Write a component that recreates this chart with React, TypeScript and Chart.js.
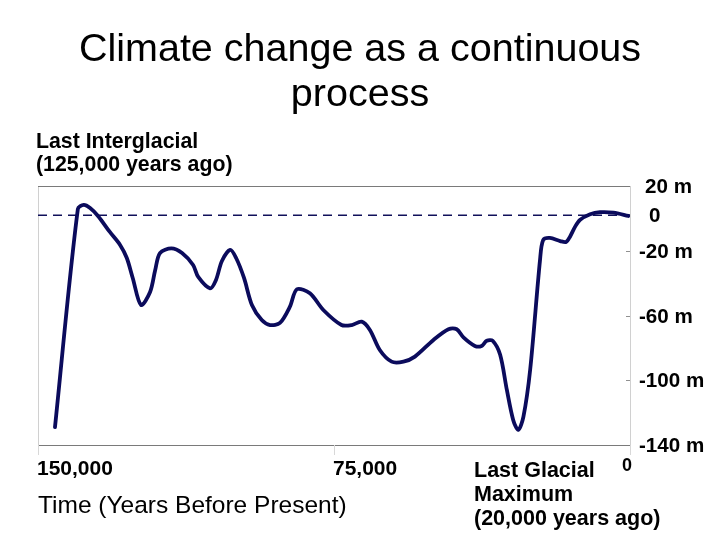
import React, { useEffect, useRef } from "react";
import { Chart, registerables } from "chart.js";

Chart.register(...registerables);

const titleLines = ["Climate change as a continuous", "process"];
const yearsBP = [145700, 139900, 138400, 136800, 134800, 131800, 129200, 127500, 126000, 123900, 121600, 120300, 119100, 116200, 113500, 110700, 109400, 106400, 104900, 103400, 101300, 99800, 97800, 95800, 93300, 91200, 88700, 86200, 84400, 81100, 77700, 73100, 70500, 68000, 65900, 63400, 60400, 57400, 54500, 49800, 46000, 43900, 42200, 39300, 37600, 36300, 34800, 32900, 31200, 29600, 28300, 27000, 25300, 22800, 22000, 20300, 17700, 16200, 15200, 13900, 12700, 10100, 7600, 4200, 400];
const seaLevel = [-129, 5.8, 8.3, 6.4, 1.5, -8.4, -16.4, -24.5, -36.8, -53.5, -45.5, -31.9, -21.4, -18.5, -21.4, -28.8, -36.2, -43.2, -38, -26.3, -19.5, -24.5, -36.8, -53.5, -62.8, -65.9, -64.6, -54.7, -43.8, -46.3, -56.6, -65.9, -65.9, -63.8, -68.9, -81.3, -88.5, -88.5, -85.4, -75.1, -68.5, -68.5, -73.5, -78.8, -78.8, -75.6, -75.6, -84.3, -106, -124.5, -130.7, -122.5, -93.6, -25.7, -13.4, -12.1, -14, -14.6, -11.3, -5.1, -1, 2.5, 3.8, 3.5, 1.5];
const yTickValues = [20, 0, -20, -60, -100, -140];
const yTickLabels = ["20 m", "0", "-20 m", "-60 m", "-100 m", "-140 m"];
const xTickValues = [150000, 75000, 0];
const xTickLabels = ["150,000", "75,000", "0"];
const topNote = ["Last Interglacial", "(125,000 years ago)"];
const bottomNote = ["Last Glacial", "Maximum", "(20,000 years ago)"];
const xAxisTitle = "Time (Years Before Present)";
// the dashed "present sea level" line sits slightly above the axis 0 in the picture
const referenceLevel = 2;

const FONT = "'Liberation Sans', Arial, sans-serif";

const decorPlugin = {
  id: "decor",
  beforeDatasetsDraw(chart: any) {
    const { ctx, chartArea: a, scales } = chart;
    const y = scales.y;
    const x = scales.x;
    ctx.save();
    ctx.lineWidth = 1;
    ctx.strokeStyle = "#d0d0d0";
    ctx.beginPath();
    ctx.moveTo(a.left + 0.5, a.top);
    ctx.lineTo(a.left + 0.5, a.bottom);
    ctx.moveTo(a.right + 0.5, a.top);
    ctx.lineTo(a.right + 0.5, a.bottom + 4);
    ctx.stroke();
    ctx.strokeStyle = "#7a7a7a";
    ctx.beginPath();
    ctx.moveTo(a.left, a.top + 0.5);
    ctx.lineTo(a.right, a.top + 0.5);
    ctx.moveTo(a.left, a.bottom + 0.5);
    ctx.lineTo(a.right, a.bottom + 0.5);
    ctx.stroke();
    ctx.strokeStyle = "#d8d8d8";
    ctx.beginPath();
    xTickValues.forEach((v) => {
      const px = Math.round(x.getPixelForValue(v)) + 0.5;
      ctx.moveTo(px, a.bottom);
      ctx.lineTo(px, a.bottom + 10);
    });
    ctx.stroke();
    ctx.strokeStyle = "#909090";
    ctx.beginPath();
    yTickValues.forEach((v) => {
      if (v === 20 || v === 0 || v === -140) return;
      const py = Math.round(y.getPixelForValue(v)) + 0.5;
      ctx.moveTo(a.right - 4, py);
      ctx.lineTo(a.right, py);
    });
    ctx.stroke();
    const ry = y.getPixelForValue(referenceLevel);
    ctx.strokeStyle = "#10105a";
    ctx.lineWidth = 1.5;
    ctx.setLineDash([9, 6]);
    ctx.beginPath();
    ctx.moveTo(a.left, ry);
    ctx.lineTo(a.right, ry);
    ctx.stroke();
    ctx.restore();
  },
  afterDraw(chart: any) {
    const { ctx, chartArea: a, scales } = chart;
    const y = scales.y;
    const x = scales.x;
    ctx.save();
    ctx.fillStyle = "#000";
    ctx.textBaseline = "alphabetic";
    ctx.font = `39.5px ${FONT}`;
    ctx.textAlign = "center";
    ctx.fillText(titleLines[0], 360, 61);
    ctx.fillText(titleLines[1], 360, 106);
    ctx.textBaseline = "middle";
    ctx.textAlign = "left";
    ctx.font = `bold 21.3px ${FONT}`;
    ctx.fillText(topNote[0], 36, 142);
    ctx.fillText(topNote[1], 36, 165);
    ctx.font = `bold 20.6px ${FONT}`;
    yTickValues.forEach((v, i) => {
      const lbl = yTickLabels[i];
      const py = (v === 0 ? y.getPixelForValue(referenceLevel) : y.getPixelForValue(v)) + 1.5;
      const px = lbl === "0" ? a.right + 19 : lbl.startsWith("-") ? a.right + 9 : a.right + 15;
      ctx.fillText(lbl, px, py);
    });
    xTickValues.forEach((v, i) => {
      const px = x.getPixelForValue(v);
      if (i === xTickLabels.length - 1) {
        ctx.textAlign = "center";
        ctx.font = `bold 18px ${FONT}`;
        ctx.fillText(xTickLabels[i], px - 3, a.bottom + 21);
      } else {
        ctx.textAlign = "left";
        ctx.font = `bold 21px ${FONT}`;
        ctx.fillText(xTickLabels[i], px - 1, a.bottom + 24);
      }
    });
    ctx.textAlign = "left";
    ctx.font = `24.5px ${FONT}`;
    ctx.fillText(xAxisTitle, 38, 506);
    ctx.font = `bold 21.5px ${FONT}`;
    ctx.fillText(bottomNote[0], 474, 471);
    ctx.fillText(bottomNote[1], 474, 495);
    ctx.fillText(bottomNote[2], 474, 519);
    ctx.restore();
  },
};

export default function App() {
  const ref = useRef<HTMLCanvasElement | null>(null);
  useEffect(() => {
    if (!ref.current) return;
    const chart = new Chart(ref.current, {
      type: "line",
      data: {
        datasets: [
          {
            data: yearsBP.map((t, i) => ({ x: t, y: seaLevel[i] })),
            borderColor: "#0b0b5c",
            borderWidth: 3.8,
            pointRadius: 0,
            tension: 0.3,
            fill: false,
            borderCapStyle: "round",
            borderJoinStyle: "round",
          },
        ],
      },
      options: {
        responsive: false,
        animation: false,
        layout: { padding: { left: 38, right: 90, top: 186, bottom: 95 } },
        plugins: { legend: { display: false }, tooltip: { enabled: false }, title: { display: false } },
        scales: {
          x: { type: "linear", min: 0, max: 150000, reverse: true, display: false },
          y: { type: "linear", min: -140, max: 20, display: false },
        },
      },
      plugins: [decorPlugin],
    });
    return () => chart.destroy();
  }, []);
  return (
    <div style={{ position: "fixed", left: 0, top: 0, width: 720, height: 540, background: "#fff" }}>
      <canvas ref={ref} width={720} height={540} />
    </div>
  );
}
